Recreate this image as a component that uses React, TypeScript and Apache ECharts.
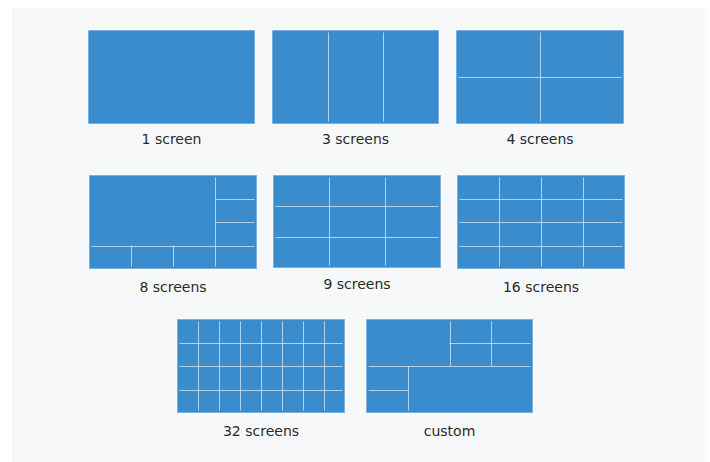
import React, { useEffect, useRef } from "react";
import * as echarts from "echarts";

// Layout names shown under each screen wall
const labels = ["1 screen", "3 screens", "4 screens", "8 screens", "9 screens", "16 screens", "32 screens", "custom"];

// Grid units [columns, rows] of each wall
const gridUnits: number[][] = [
  [1, 1], [3, 1], [2, 2], [4, 4], [3, 3], [4, 4], [8, 4], [4, 4],
];

// Divider segments [x1, y1, x2, y2] in grid units
const dividers1: number[][] = [];
const dividers3: number[][] = [[1, 0, 1, 1], [2, 0, 2, 1]];
const dividers4: number[][] = [[1, 0, 1, 2], [0, 1, 2, 1]];
const dividers8: number[][] = [
  [3, 0, 3, 4], [0, 3, 4, 3], [3, 1, 4, 1], [3, 2, 4, 2], [1, 3, 1, 4], [2, 3, 2, 4],
];
const dividers9: number[][] = [[1, 0, 1, 3], [2, 0, 2, 3], [0, 1, 3, 1], [0, 2, 3, 2]];
const dividers16: number[][] = [
  [1, 0, 1, 4], [2, 0, 2, 4], [3, 0, 3, 4], [0, 1, 4, 1], [0, 2, 4, 2], [0, 3, 4, 3],
];
const dividers32: number[][] = [
  [1, 0, 1, 4], [2, 0, 2, 4], [3, 0, 3, 4], [4, 0, 4, 4], [5, 0, 5, 4], [6, 0, 6, 4], [7, 0, 7, 4],
  [0, 1, 8, 1], [0, 2, 8, 2], [0, 3, 8, 3],
];
const dividersCustom: number[][] = [
  [0, 2, 4, 2], [2, 0, 2, 2], [3, 0, 3, 2], [2, 1, 4, 1], [1, 2, 1, 4], [0, 3, 1, 3],
];
const allDividers = [dividers1, dividers3, dividers4, dividers8, dividers9, dividers16, dividers32, dividersCustom];

// Pixel placement of each wall: [left, top, width, height]
const boxes: number[][] = [
  [88, 30, 167, 94], [272, 30, 167, 94], [456, 30, 168, 94],
  [89, 175, 168, 94], [273, 175, 168, 93], [457, 175, 168, 94],
  [177, 319, 168, 94], [366, 319, 167, 94],
];
// Label centres
const labelPos: number[][] = [
  [171.5, 139], [355.5, 139], [540, 139],
  [173, 287], [357, 284], [541, 287],
  [261, 431], [449.5, 431],
];

const FILL = "#3a8ccd";
const BORDER = "#79b2e2";
const LINE = "rgba(215,234,250,0.75)";

export default function App() {
  const ref = useRef<HTMLDivElement>(null);
  useEffect(() => {
    if (!ref.current) return;
    const chart = echarts.init(ref.current, undefined, { renderer: "svg" });
    const grids: any[] = [];
    const xAxes: any[] = [];
    const yAxes: any[] = [];
    const series: any[] = [];
    boxes.forEach((b, i) => {
      const [cols, rows] = gridUnits[i];
      grids.push({ left: b[0], top: b[1], width: b[2], height: b[3] });
      xAxes.push({ type: "value", gridIndex: i, min: 0, max: cols, show: false });
      yAxes.push({ type: "value", gridIndex: i, min: 0, max: rows, inverse: true, show: false });
      series.push({
        type: "custom",
        xAxisIndex: i,
        yAxisIndex: i,
        z: 2,
        data: [[0, 0, cols, rows]],
        renderItem: (params: any, api: any) => {
          const p0 = api.coord([api.value(0), api.value(1)]);
          const p1 = api.coord([api.value(2), api.value(3)]);
          return {
            type: "rect",
            shape: { x: p0[0] + 0.5, y: p0[1] + 0.5, width: p1[0] - p0[0] - 1, height: p1[1] - p0[1] - 1 },
            style: { fill: FILL, stroke: BORDER, lineWidth: 1 },
          };
        },
      });
      series.push({
        type: "custom",
        xAxisIndex: i,
        yAxisIndex: i,
        z: 3,
        data: allDividers[i],
        renderItem: (params: any, api: any) => {
          const x1 = api.value(0), y1 = api.value(1), x2 = api.value(2), y2 = api.value(3);
          const a = api.coord([x1, y1]);
          const c = api.coord([x2, y2]);
          const inset = 2.5;
          let ax = a[0], ay = a[1], cx = c[0], cy = c[1];
          if (y1 === y2) {
            ay = Math.round(ay) + 0.5; cy = ay;
            if (x1 === 0) ax += inset;
            if (x2 === cols) cx -= inset;
          } else {
            ax = Math.round(ax) + 0.5; cx = ax;
            if (y1 === 0) ay += inset;
            if (y2 === rows) cy -= inset;
          }
          return {
            type: "line",
            shape: { x1: ax, y1: ay, x2: cx, y2: cy },
            style: { stroke: LINE, lineWidth: 1 },
          };
        },
      });
    });
    const graphics: any[] = [
      { type: "rect", z: -100, shape: { x: 12, y: 8, width: 693, height: 454 }, style: { fill: "#f6f8fa" } },
    ];
    labels.forEach((t, i) => {
      graphics.push({
        type: "text",
        x: labelPos[i][0],
        y: labelPos[i][1],
        style: {
          text: t,
          fill: "#2a2a2a",
          font: '14px "DejaVu Sans"',
          align: "center",
          verticalAlign: "middle",
        },
      });
    });
    chart.setOption({
      animation: false,
      backgroundColor: "#ffffff",
      grid: grids,
      xAxis: xAxes,
      yAxis: yAxes,
      series,
      graphic: graphics,
    });
    return () => chart.dispose();
  }, []);
  return <div ref={ref} style={{ position: "absolute", left: 0, top: 0, width: 710, height: 462 }} />;
}
